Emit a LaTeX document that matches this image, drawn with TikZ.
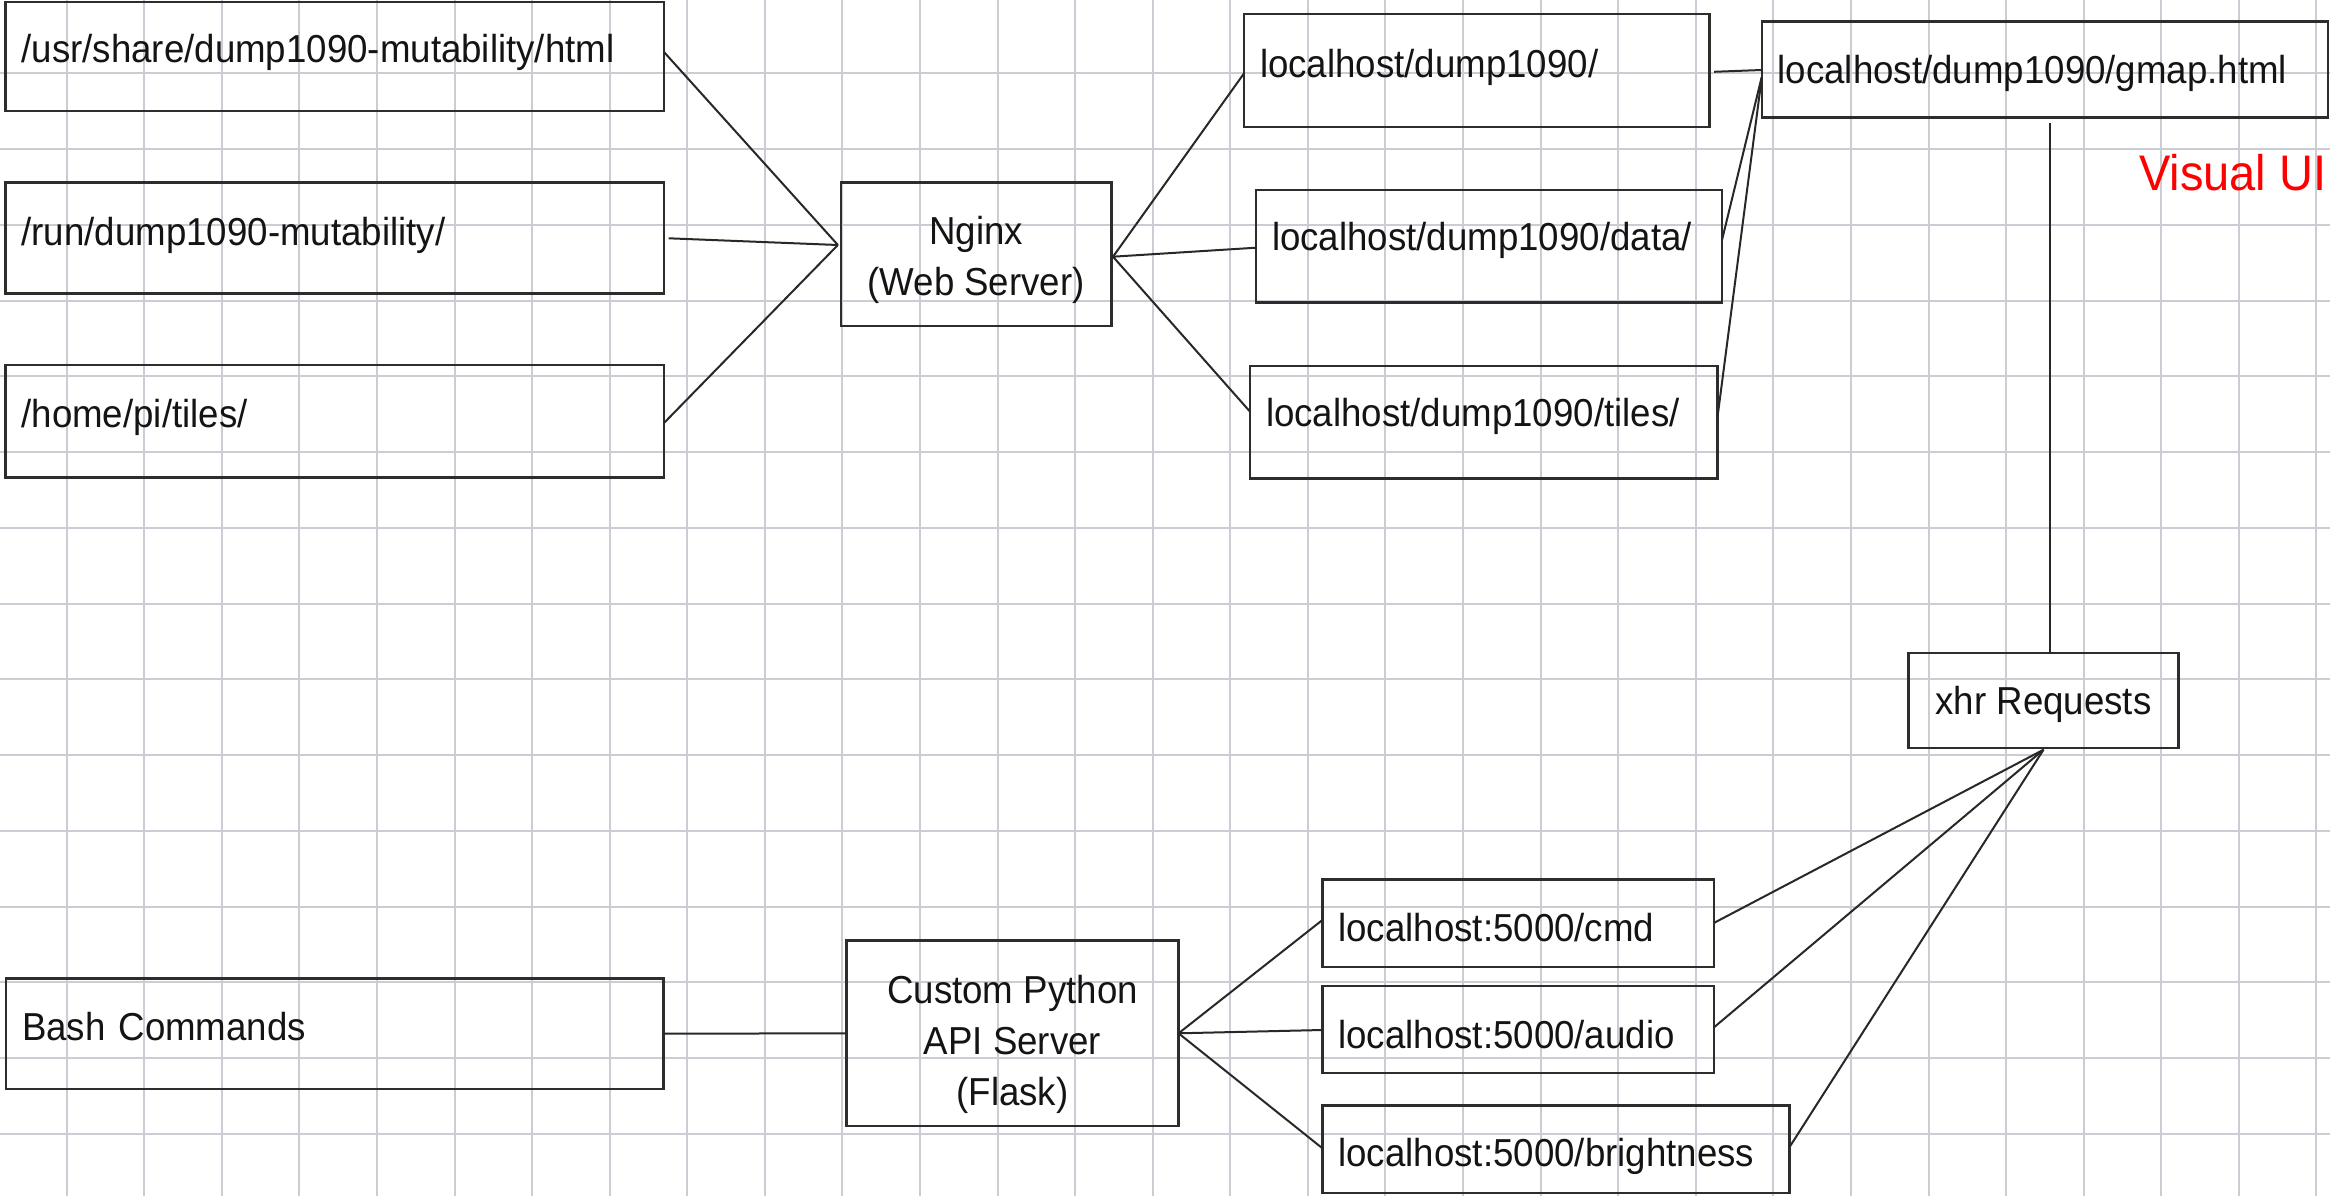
\documentclass[tikz,border=0pt]{standalone}
\usepackage{fontspec}
\setmainfont{Liberation Sans}[FakeStretch=0.94]
\usetikzlibrary{calc}
\definecolor{gridc}{RGB}{204,204,212}
\definecolor{boxc}{RGB}{45,45,45}
\definecolor{linkc}{RGB}{40,40,40}
\definecolor{txtc}{RGB}{20,20,20}
\newcommand\boxfont{\fontsize{39}{51}\selectfont}
\newcommand\uifont{\fontsize{50}{58}\selectfont}
\begin{document}
\begin{tikzpicture}[x=1pt,y=-1pt,
  gridline/.style={draw=gridc, line width=2pt},
  box/.style={draw=boxc, line width=2.4pt, rectangle, inner ysep=0pt, outer sep=0pt, font=\boxfont, text=txtc},
  lbox/.style={box, align=left, inner xsep=16pt},
  cbox/.style={box, align=center, inner xsep=0pt},
  link/.style={draw=linkc, line width=2pt}]
\useasboundingbox[fill=white] (0,0) rectangle (2330,1196);
% grid
\foreach \k in {0,...,29} \draw[gridline] ({66.6+77.58*\k},0) -- ({66.6+77.58*\k},1196);
\foreach \k in {0,...,14} \draw[gridline] (0,{73.3+75.75*\k}) -- (2330,{73.3+75.75*\k});
% left column
\node[lbox, text width=626.2pt, minimum height=109pt, text height=27pt, text depth=15.4pt] (l1) at (334.6,56.5) {/usr/share/dump1090-mutability/html};
\node[lbox, text width=626.2pt, minimum height=110.6pt, text height=27pt, text depth=13pt] (l2) at (334.6,238) {/run/dump1090-mutability/};
\node[lbox, text width=626.2pt, minimum height=112.7pt, text height=27pt, text depth=14.2pt] (l3) at (334.6,421.3) {/home/pi/tiles/};
\node[lbox, text width=625.5pt, minimum height=110.7pt, text height=27pt, text depth=14.4pt] (bash) at (334.8,1033.7) {Bash Commands};
% servers
\node[cbox, minimum width=270.4pt, minimum height=143.3pt, text height=81.4pt, text depth=0pt] (ng) at (976.1,254.3) {Nginx\\(Web Server)};
\node[cbox, minimum width=332.1pt, minimum height=185.3pt, text height=143.4pt, text depth=0pt] (api) at (1012.5,1033.3) {Custom Python\\API Server\\(Flask)};
% localhost column
\node[lbox, text width=433.5pt, minimum height=113pt, text height=27pt, text depth=14pt] (d1) at (1476.8,70.8) {localhost/dump1090/};
\node[lbox, text width=434pt, minimum height=112.7pt, text height=27pt, text depth=18.2pt] (data) at (1489,246.3) {localhost/dump1090/data/};
\node[lbox, text width=435.5pt, minimum height=112.6pt, text height=27pt, text depth=17.6pt] (tiles) at (1483.8,422) {localhost/dump1090/tiles/};
\node[lbox, text width=534pt, minimum height=96pt, text height=27.2pt, text depth=0pt] (gmap) at (2044.7,69.7) {localhost/dump1090/gmap.html};
\node[cbox, minimum width=270.3pt, minimum height=95pt, text height=27pt, text depth=0pt] (xhr) at (2043.5,700.7) {xhr Requests};
\node[lbox, text width=359.4pt, minimum height=87.3pt, text height=35.4pt, text depth=0pt] (cmd) at (1518.1,923.3) {localhost:5000/cmd};
\node[lbox, text width=359.4pt, minimum height=87.1pt, text height=38pt, text depth=0pt] (audio) at (1518.1,1029.5) {localhost:5000/audio};
\node[lbox, text width=435.1pt, minimum height=87.3pt, text height=34pt, text depth=0pt] (bright) at (1556,1149.3) {localhost:5000/brightness};
\node[anchor=base west, text=red, font=\uifont, inner sep=0pt] (vui) at (2139,190) {Visual UI};
% connectors
\coordinate (ngin) at ($(ng.west)+(-3,-9.3)$);
\draw[link] ($(l1.east)+(0,-4.8)$) -- (ngin);
\draw[link] ($(l2.east)+(5,0.3)$) -- (ngin);
\draw[link] ($(l3.east)+(0,2)$) -- (ngin);
\coordinate (ngout) at ($(ng.east)+(1.7,2.4)$);
\draw[link] (ngout) -- ($(d1.west)+(0,2.5)$);
\draw[link] (ngout) -- ($(data.west)+(0,1.4)$);
\draw[link] (ngout) -- ($(tiles.west)+(0,-10.3)$);
\draw[link] ($(d1.east)+(4.5,1)$) -- ($(gmap.west)+(0,0.3)$);
\draw[link] ($(data.east)+(0,-6.3)$) -- ($(gmap.west)+(0,7.3)$);
\draw[link] ($(tiles.east)+(0,-5.3)$) -- ($(gmap.west)+(0,8)$);
\draw[link] ($(gmap.south)+(5.3,5.3)$) -- ($(xhr.north)+(6.5,0)$);
\coordinate (xin) at ($(xhr.south)+(0,1.5)$);
\draw[link] (xin) -- ($(cmd.east)+(0,-0.3)$);
\draw[link] (xin) -- ($(audio.east)+(0,-2)$);
\draw[link] (xin) -- ($(bright.east)+(0,-2.3)$);
\draw[link] (bash.east) -- (api.west);
\draw[link] (api.east) -- ($(cmd.west)+(0,-3.3)$);
\draw[link] (api.east) -- ($(audio.west)+(0,0.5)$);
\draw[link] (api.east) -- ($(bright.west)+(0,-1)$);
\end{tikzpicture}
\end{document}
